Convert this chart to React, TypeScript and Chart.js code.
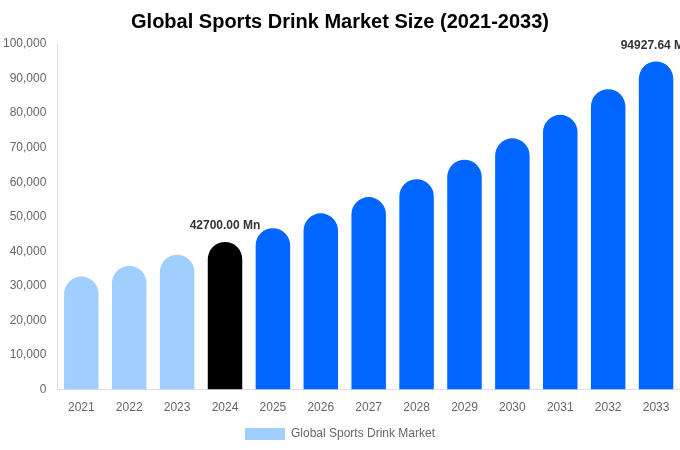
import { useEffect, useRef } from 'react'
import { Chart, registerables } from 'chart.js'

Chart.register(...registerables)

const years = ['2021', '2022', '2023', '2024', '2025', '2026', '2027', '2028', '2029', '2030', '2031', '2032', '2033']
const marketSize = [32700, 35800, 39000, 42700, 46700, 51000, 55700, 60900, 66500, 72700, 79500, 86900, 94927.64]
const barColors = [
  '#A0CEFF', '#A0CEFF', '#A0CEFF', '#000000',
  '#0066FF', '#0066FF', '#0066FF', '#0066FF', '#0066FF',
  '#0066FF', '#0066FF', '#0066FF', '#0066FF'
]
// only these bars get a value label
const labelledYears = ['2024', '2033']

const valueLabels = {
  id: 'valueLabels',
  afterDatasetsDraw(chart: Chart) {
    const ctx = chart.ctx
    const meta = chart.getDatasetMeta(0)
    ctx.save()
    ctx.font = 'bold 12px "Liberation Sans", Arial, sans-serif'
    ctx.fillStyle = '#333333'
    ctx.textAlign = 'center'
    ctx.textBaseline = 'bottom'
    meta.data.forEach((bar: any, i: number) => {
      if (!labelledYears.includes(years[i])) return
      ctx.fillText(marketSize[i].toFixed(2) + ' Mn', bar.x, bar.y - 10)
    })
    ctx.restore()
  }
}

export default function App() {
  const chartRef = useRef<HTMLCanvasElement>(null)
  const chartInstance = useRef<Chart | null>(null)

  useEffect(() => {
    document.body.style.margin = '0'
    if (!chartRef.current) return
    if (chartInstance.current) chartInstance.current.destroy()

    Chart.defaults.font.family = '"Liberation Sans", Arial, sans-serif'

    chartInstance.current = new Chart(chartRef.current, {
      type: 'bar',
      data: {
        labels: years,
        datasets: [
          {
            label: 'Global Sports Drink Market',
            data: marketSize,
            backgroundColor: barColors,
            borderRadius: { topLeft: 30, topRight: 30 },
            borderSkipped: 'bottom',
            categoryPercentage: 0.72,
            barPercentage: 1
          }
        ]
      },
      options: {
        responsive: false,
        animation: false,
        layout: { padding: 0 },
        plugins: {
          title: {
            display: true,
            text: 'Global Sports Drink Market Size (2021-2033)',
            color: '#000000',
            font: { size: 20, weight: 'bold' },
            padding: { top: 10, bottom: 10 }
          },
          legend: {
            position: 'bottom',
            labels: {
              color: '#666666',
              font: { size: 12 },
              boxWidth: 40,
              boxHeight: 12,
              padding: 10
            }
          },
          tooltip: { enabled: false }
        },
        scales: {
          x: {
            grid: { display: false },
            border: { color: '#E0E0E0' },
            ticks: { color: '#666666', font: { size: 12 } }
          },
          y: {
            min: 0,
            max: 100000,
            grid: { display: false },
            border: { color: '#E0E0E0' },
            ticks: {
              stepSize: 10000,
              color: '#666666',
              font: { size: 12 },
              callback: (value) => Number(value).toLocaleString('en-US')
            }
          }
        }
      },
      plugins: [valueLabels]
    })

    return () => {
      if (chartInstance.current) {
        chartInstance.current.destroy()
        chartInstance.current = null
      }
    }
  }, [])

  return (
    <div style={{ width: 680, height: 450 }}>
      <canvas ref={chartRef} width={680} height={450} />
    </div>
  )
}
